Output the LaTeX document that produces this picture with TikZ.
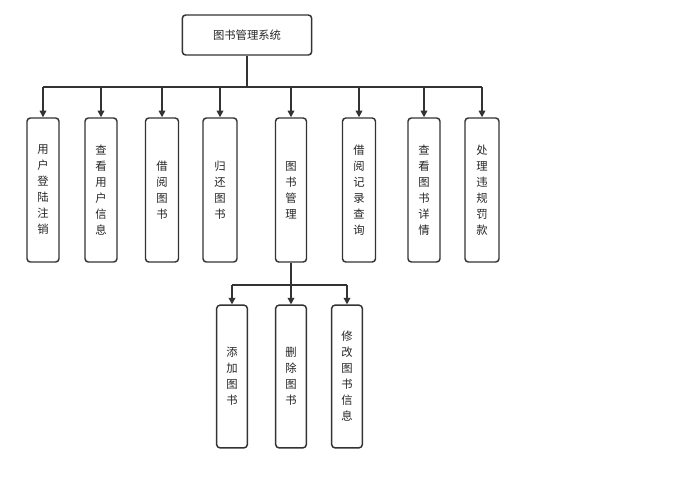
\documentclass[tikz,border=0pt]{standalone}
\usepackage{fontspec}
\setmainfont{Noto Sans CJK SC}
\usetikzlibrary{arrows.meta}
\begin{document}
\begin{tikzpicture}[x=0.75pt,y=-0.75pt,
  box/.style={draw=black!80,line width=1.1pt,rounded corners=2.5pt,fill=white,font=\fontsize{8.5}{12}\selectfont,text=black!85,align=center,inner sep=0pt},
  con/.style={draw=black!80,line width=1.1pt},
  arr/.style={con,-{Triangle[length=5pt,width=5pt]}}]
\useasboundingbox (0,0) rectangle (677,480);
\node[box,minimum width=97pt,minimum height=30pt] (root) at (247,35) {图书管理系统};
\def\kid#1#2#3#4{\node[box,minimum width=#3*0.75pt,minimum height=108pt] (#1) at (#2,190) {#4};}
\kid{k1}{43}{32}{用\\户\\登\\陆\\注\\销}
\kid{k2}{101}{32}{查\\看\\用\\户\\信\\息}
\kid{k3}{162}{33}{借\\阅\\图\\书}
\kid{k4}{220}{34}{归\\还\\图\\书}
\kid{k5}{291}{31}{图\\书\\管\\理}
\kid{k6}{359}{33}{借\\阅\\记\\录\\查\\询}
\kid{k7}{424}{32}{查\\看\\图\\书\\详\\情}
\kid{k8}{482}{34}{处\\理\\违\\规\\罚\\款}
\def\sub#1#2#3{\node[box,minimum width=23pt,minimum height=107pt] (#1) at (#2,376.5) {#3};}
\sub{s1}{232}{添\\加\\图\\书}
\sub{s2}{291}{删\\除\\图\\书}
\sub{s3}{347}{修\\改\\图\\书\\信\\息}
\coordinate (b0) at (247,87);
\draw[con] (root.south) -- (b0);
\draw[con] (43,87) -- (482,87);
\foreach \k/\x in {k1/43,k2/101,k3/162,k4/220,k5/291,k6/359,k7/424,k8/482}
  \draw[arr] (\x,87) -- (\k.north);
\coordinate (c0) at (291,285);
\draw[con] (k5.south) -- (c0);
\draw[con] (232,285) -- (347,285);
\foreach \k/\x in {s1/232,s2/291,s3/347}
  \draw[arr] (\x,285) -- (\k.north);
\end{tikzpicture}
\end{document}
